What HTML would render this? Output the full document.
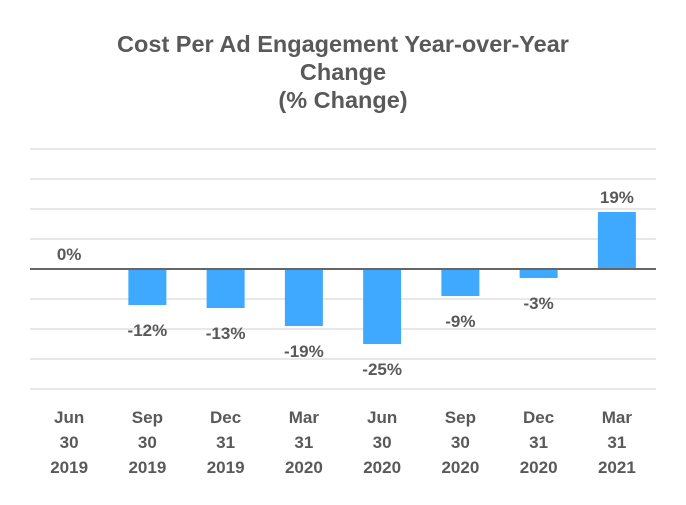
<!DOCTYPE html>
<html><head><meta charset="utf-8"><style>
body{margin:0;background:#fff;font-family:"Liberation Sans",Arial,sans-serif}
svg text{font-family:"Liberation Sans",Arial,sans-serif;fill:#595959;font-weight:bold}
</style></head><body>
<svg id="c" width="686" height="500">
<text x="343" y="52" text-anchor="middle" font-size="23.5"><tspan x="343">Cost Per Ad Engagement Year-over-Year</tspan><tspan x="343" dy="28">Change</tspan><tspan x="343" dy="28">(% Change)</tspan></text>
</svg>
<script>
const categories=[["Jun","30","2019"],["Sep","30","2019"],["Dec","31","2019"],["Mar","31","2020"],["Jun","30","2020"],["Sep","30","2020"],["Dec","31","2020"],["Mar","31","2021"]];
const values=[0,-12,-13,-19,-25,-9,-3,19];
const gridTicks=[40,30,20,10,0,-10,-20,-30,-40];
const svg=document.getElementById('c');const NS='http://www.w3.org/2000/svg';
const L=30,R=656,zeroY=269,pxPer=3;
const y=v=>zeroY-v*pxPer;
const bw=(R-L)/categories.length;
const xc=i=>L+bw*(i+0.5);
function mk(t,a){const e=document.createElementNS(NS,t);for(const k in a)e.setAttribute(k,a[k]);svg.appendChild(e);return e;}
gridTicks.forEach(t=>{if(t===0)return;const g=mk('line',{x1:L,x2:R,y1:y(t),y2:y(t),stroke:'#e0e0e0','stroke-width':1.5});

});
values.forEach((v,i)=>{
 const b=mk('rect',{x:xc(i)-19,width:38,y:Math.min(y(v),zeroY),height:Math.abs(v)*pxPer,fill:'#3fa9ff'});
 
 
 const ly=v<0?y(v)+31:y(v)-9;
 const t=mk('text',{x:xc(i),y:ly,'text-anchor':'middle','font-size':17});t.textContent=v+'%';
 
 
 categories[i].forEach((s,j)=>{const c=mk('text',{x:xc(i),y:423+j*25,'text-anchor':'middle','font-size':17});c.textContent=s;
 
 });
});
const z=mk('line',{x1:L,x2:R,y1:zeroY,y2:zeroY,stroke:'#666','stroke-width':2});


</script>
</body></html>
